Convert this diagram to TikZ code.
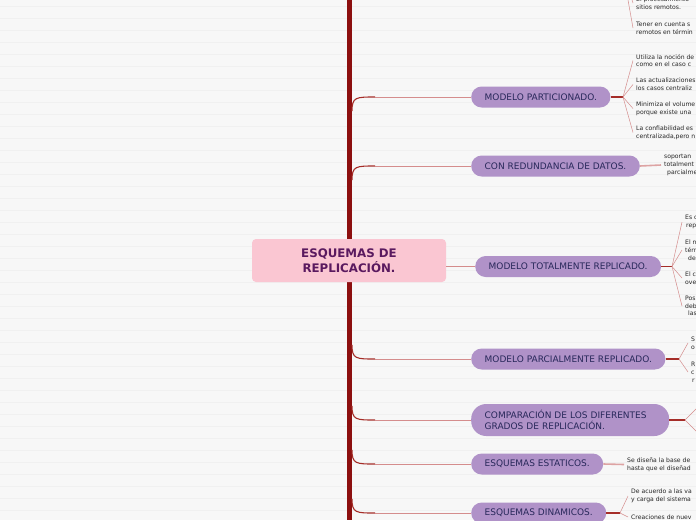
\documentclass[tikz,border=0pt]{standalone}
\usepackage{fontspec}
\setmainfont{DejaVu Sans}
\usepackage{tikz}
\definecolor{fondo}{RGB}{247,247,247}
\definecolor{raya}{RGB}{240,240,240}
\definecolor{tronco}{RGB}{140,15,15}
\definecolor{rama}{RGB}{165,45,40}
\definecolor{hoja}{RGB}{212,140,140}
\definecolor{rosa}{RGB}{250,198,210}
\definecolor{lila}{RGB}{176,146,200}
\definecolor{tituloc}{RGB}{90,25,95}
\definecolor{textoc}{RGB}{40,40,90}

\tikzset{
  tema/.style={fill=lila, rounded corners=10.5pt, text=textoc,
    font=\fontsize{9}{11}\selectfont, inner xsep=13.5pt, inner ysep=0pt,
    minimum height=21pt, anchor=west, align=left},
  nota/.style={font=\fontsize{6.1}{7.8}\selectfont, text=black!85,
    anchor=west, align=left, inner xsep=3pt, inner ysep=0pt},
  curva/.style={draw=rama, line width=1.1pt},
  recta/.style={draw=hoja, line width=0.8pt},
  enlace/.style={draw=rama, line width=1.4pt},
  abanico/.style={draw=hoja, line width=0.5pt},
  gruesa/.style={draw=hoja!80, line width=1.6pt}
}

\begin{document}
\begin{tikzpicture}[x=1pt,y=-1pt]
  \useasboundingbox (0,0) rectangle (696,520);
  \clip (0,0) rectangle (696,520);
  % fondo rayado
  \fill[fondo] (0,0) rectangle (696,520);
  \foreach \y in {6,18,...,518}
    \draw[raya, line width=0.6pt] (0,\y) -- (696,\y);

  % tronco
  \draw[tronco, line width=5pt] (349,0) -- (349,520);

  % nodo central
  \node[fill=rosa, rounded corners=4pt, minimum width=194pt, minimum height=43pt,
    text=tituloc, font=\fontsize{11.8}{15}\selectfont\bfseries, align=center]
    (centro) at (349,260.5) {ESQUEMAS DE\\REPLICACIÓN.};

  % temas
  \node[tema] (particionado) at (471,97)  {MODELO PARTICIONADO.};
  \node[tema] (redundancia)  at (471,166) {CON REDUNDANCIA DE DATOS.};
  \node[tema] (totalmente)   at (475,266.5) {MODELO TOTALMENTE REPLICADO.};
  \node[tema] (parcialmente) at (471,359) {MODELO PARCIALMENTE REPLICADO.};
  \node[tema, rounded corners=15pt, minimum height=32pt, text width=171pt]
    (comparacion) at (471,420) {COMPARACIÓN DE LOS DIFERENTES\\GRADOS DE REPLICACIÓN.};
  \node[tema] (estaticos)    at (471,464) {ESQUEMAS ESTATICOS.};
  \node[tema] (dinamicos)    at (471,513) {ESQUEMAS DINAMICOS.};

  % ramas desde el tronco
  \draw[curva] (352,111) .. controls (352,97) and (356,97) .. (375,97);
  \draw[recta] (375,97) -- (particionado.west);
  \draw[curva] (352,180) .. controls (352,166) and (356,166) .. (375,166);
  \draw[recta] (375,166) -- (redundancia.west);
  \draw[recta] (centro.east |- totalmente.west) -- (totalmente.west);
  \draw[curva] (352,345) .. controls (352,359) and (356,359) .. (375,359);
  \draw[recta] (375,359) -- (parcialmente.west);
  \draw[curva] (352,406) .. controls (352,420) and (356,420) .. (375,420);
  \draw[recta] (375,420) -- (comparacion.west);
  \draw[curva] (352,450) .. controls (352,464) and (356,464) .. (375,464);
  \draw[recta] (375,464) -- (estaticos.west);
  \draw[curva] (352,499) .. controls (352,513) and (356,513) .. (375,513);
  \draw[recta] (375,513) -- (dinamicos.west);

  % hojas de arriba (tema fuera del cuadro)
  \coordinate (arriba) at (623,-28);
  \node[nota] (e1) at (633,3)  {El procesamiento\\sitios remotos.};
  \node[nota] (e2) at (633,28) {Tener en cuenta s\\remotos en términ};
  \draw[abanico] (arriba) -- (e1.west);
  \draw[abanico] (arriba) -- (e2.west);

  % hojas: modelo particionado
  \coordinate (pj) at (623,97);
  \draw[enlace] (particionado.east) -- (pj);
  \node[nota] (p1) at (633,60.5)  {Utiliza la noción de\\como en el caso c};
  \node[nota] (p2) at (633,84.5)  {Las actualizaciones\\los casos centraliz};
  \node[nota] (p3) at (633,108.5) {Minimiza el volume\\porque existe una};
  \node[nota] (p4) at (633,132.5) {La confiabilidad es\\centralizada,pero n};
  \foreach \h in {p1,p2,p3,p4}
    \draw[abanico] (pj) -- (\h.west);

  % hojas: con redundancia
  \node[nota] (r1) at (661,165) {soportan\\totalment\\\hspace*{3pt}parcialme};
  \draw[gruesa] (redundancia.east) -- (r1.west);

  % hojas: modelo totalmente replicado
  \coordinate (tj) at (672,266.5);
  \draw[enlace] (totalmente.east) -- (tj);
  \node[nota] (t1) at (682,222) {Es c\\\hspace*{1pt}rep};
  \node[nota] (t2) at (682,250) {El n\\térm\\\hspace*{3pt}de};
  \node[nota] (t3) at (682,278) {El c\\ove};
  \node[nota] (t4) at (682,306) {Pos\\deb\\\hspace*{3pt}las};
  \foreach \h in {t1,t2,t3,t4}
    \draw[abanico] (tj) -- (\h.west);

  % hojas: modelo parcialmente replicado
  \coordinate (mj) at (679,359);
  \draw[enlace] (parcialmente.east) -- (mj);
  \node[nota] (m1) at (688,343) {S\\o};
  \node[nota] (m2) at (688,372) {R\\c\\\hspace*{1pt}r};
  \draw[abanico] (mj) -- (m1.west);
  \draw[abanico] (mj) -- (m2.west);

  % hojas: comparacion (fuera del cuadro)
  \coordinate (cj) at (685,420);
  \coordinate (c1) at (700,405);
  \coordinate (c2) at (700,435);
  \draw[enlace] (comparacion.east) -- (cj);
  \draw[abanico] (cj) -- (c1);
  \draw[abanico] (cj) -- (c2);

  % hojas: esquemas estaticos
  \node[nota] (s1) at (624,464.5) {Se diseña la base de\\hasta que el diseñad};
  \draw[gruesa] (estaticos.east) -- (s1.west);

  % hojas: esquemas dinamicos
  \coordinate (dj) at (620,513);
  \draw[enlace] (dinamicos.east) -- (dj);
  \node[nota] (d1) at (628,496) {De acuerdo a las va\\y carga del sistema};
  \node[nota] (d2) at (628,517) {Creaciones de nuev};
  \draw[abanico] (dj) -- (d1.west);
  \draw[abanico] (dj) -- (d2.west);

\end{tikzpicture}
\end{document}
